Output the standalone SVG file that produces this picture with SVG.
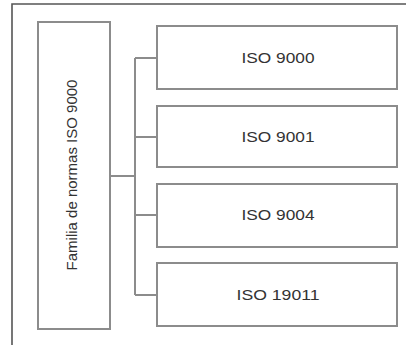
<svg xmlns="http://www.w3.org/2000/svg" width="406" height="345" viewBox="0 0 406 345">
<style>
.box{fill:#fff;stroke:#8c8c8c;stroke-width:2}
.con{fill:none;stroke:#8c8c8c;stroke-width:2}
.lbl{font-family:"Liberation Sans",Arial,sans-serif;font-size:15px;fill:#333;text-anchor:middle}
</style>
<rect width="406" height="345" fill="#fff"/>
<path d="M12,345 V4 H406" fill="none" stroke="#555" stroke-width="1.6"/>
<g id="connectors" class="con">
<path d="M110,176 H135"/>
<path d="M135,58 V295"/>
<path d="M135,58 H157"/>
<path d="M135,137 H157"/>
<path d="M135,215 H157"/>
<path d="M135,295 H157"/>
</g>
<g id="familia">
<rect class="box" x="38" y="22" width="72" height="307"/>
<text class="lbl" transform="translate(77,175) rotate(-90)" x="0" y="0">Familia de normas ISO 9000</text>
</g>
<g id="iso9000">
<rect class="box" x="157" y="26" width="240" height="63"/>
<text class="lbl" x="278" y="63" textLength="73" lengthAdjust="spacingAndGlyphs">ISO 9000</text>
</g>
<g id="iso9001">
<rect class="box" x="157" y="106" width="240" height="61"/>
<text class="lbl" x="278" y="142" textLength="73" lengthAdjust="spacingAndGlyphs">ISO 9001</text>
</g>
<g id="iso9004">
<rect class="box" x="157" y="184" width="240" height="63"/>
<text class="lbl" x="278" y="220" textLength="73" lengthAdjust="spacingAndGlyphs">ISO 9004</text>
</g>
<g id="iso19011">
<rect class="box" x="157" y="263" width="240" height="63"/>
<text class="lbl" x="278" y="300" textLength="83" lengthAdjust="spacingAndGlyphs">ISO 19011</text>
</g>
</svg>
